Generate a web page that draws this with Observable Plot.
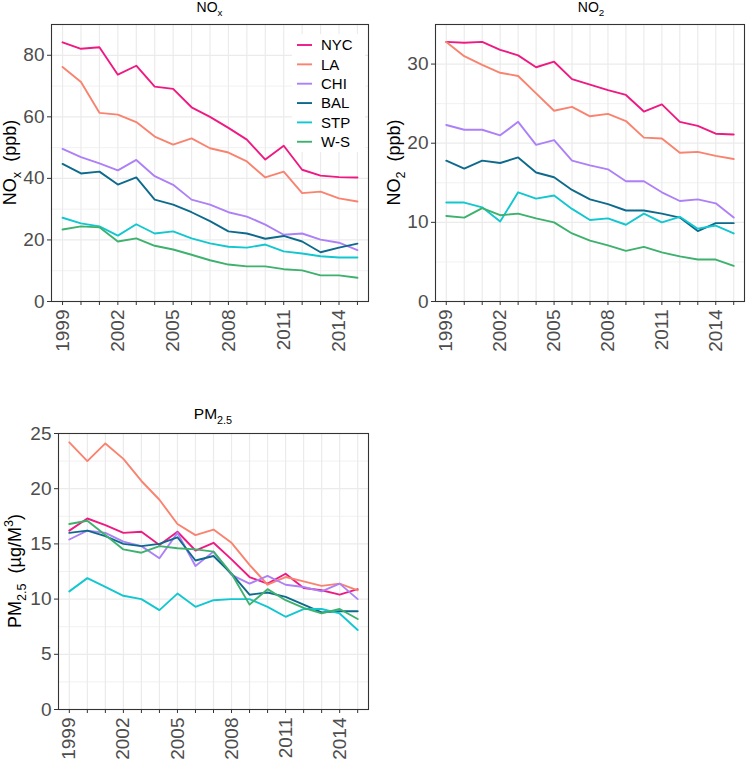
<!DOCTYPE html>
<html><head><meta charset="utf-8">
<script src="https://cdn.jsdelivr.net/npm/d3@7"></script>
<script src="https://cdn.jsdelivr.net/npm/@observablehq/plot@0.6"></script>
<style>
body{margin:0;background:#fff;font-family:"Liberation Sans",Arial,sans-serif;}
#wrap{position:relative;width:752px;height:759px;overflow:hidden;background:#fff;}
#wrap svg{position:absolute;overflow:visible;}
</style></head><body><div id="wrap"></div>
<script>
const years = [1999,2000,2001,2002,2003,2004,2005,2006,2007,2008,2009,2010,2011,2012,2013,2014,2015];
const labelYears = [1999,2002,2005,2008,2011,2014];
const cities = ["NYC","LA","CHI","BAL","STP","W-S"];
const colors = ["#EE1A82","#F9836F","#AD80F7","#0D6A8C","#12C7CF","#3DB16D"];

// NOx (ppb)
const noxNYC = [84.2,82.1,82.6,73.7,76.6,69.8,69.1,63.1,60.0,56.4,52.6,46.1,50.6,42.8,40.9,40.4,40.3];
const noxLA  = [76.2,71.3,61.3,60.7,58.3,53.6,51.0,53.0,49.8,48.4,45.5,40.3,42.2,35.2,35.7,33.5,32.5];
const noxCHI = [49.6,46.9,44.9,42.6,46.0,40.7,37.9,33.1,31.5,29.0,27.6,25.0,21.7,22.1,20.1,19.1,16.7];
const noxBAL = [44.7,41.6,42.2,38.0,40.3,33.1,31.5,29.0,26.1,22.8,22.1,20.4,21.3,19.5,16.0,17.5,18.8];
const noxSTP = [27.2,25.4,24.4,21.4,25.1,22.1,22.8,20.5,18.9,17.8,17.5,18.5,16.3,15.6,14.7,14.3,14.3];
const noxWS  = [23.4,24.4,24.1,19.5,20.5,18.1,16.9,15.2,13.4,12.0,11.4,11.4,10.5,10.1,8.5,8.5,7.7];

// NO2 (ppb)
const no2NYC = [32.8,32.7,32.8,31.8,31.1,29.6,30.3,28.1,27.4,26.7,26.1,24.0,24.9,22.7,22.2,21.2,21.1];
const no2LA  = [32.8,31.0,29.9,28.9,28.5,26.3,24.1,24.6,23.4,23.7,22.8,20.7,20.6,18.8,18.9,18.4,18.0];
const no2CHI = [22.3,21.7,21.7,21.0,22.7,19.8,20.4,17.8,17.2,16.7,15.2,15.2,13.8,12.7,12.9,12.4,10.6];
const no2BAL = [17.8,16.8,17.8,17.5,18.2,16.3,15.7,14.1,12.9,12.3,11.5,11.5,11.1,10.6,8.9,9.9,9.9];
const no2STP = [12.5,12.5,11.9,10.1,13.8,13.0,13.4,11.7,10.3,10.5,9.7,11.1,10.0,10.7,9.2,9.6,8.6];
const no2WS  = [10.8,10.6,11.8,10.9,11.1,10.5,10.0,8.6,7.7,7.1,6.4,6.9,6.2,5.7,5.3,5.3,4.5];

// PM2.5 (ug/m3)
const pmNYC = [16.2,17.3,16.7,16.0,16.1,14.9,16.1,14.4,15.1,13.6,12.0,11.4,12.3,11.0,10.8,10.4,10.9];
const pmLA  = [24.2,22.5,24.1,22.7,20.7,19.0,16.8,15.8,16.3,15.1,13.1,11.3,12.0,11.6,11.2,11.4,10.8];
const pmCHI = [15.4,16.2,16.0,15.2,14.8,13.7,16.0,13.0,14.3,12.2,11.4,12.1,11.3,11.1,10.7,11.4,10.0];
const pmBAL = [16.0,16.2,15.7,15.0,14.8,15.0,15.6,13.5,13.9,12.3,10.4,10.6,10.2,9.5,8.8,8.9,8.9];
const pmSTP = [10.7,11.9,11.1,10.3,10.0,9.0,10.5,9.3,9.9,10.0,10.0,9.3,8.4,9.1,9.1,8.7,7.2];
const pmWS  = [16.8,17.1,15.8,14.5,14.2,14.8,14.6,14.5,14.3,12.3,9.5,10.9,9.9,9.2,8.7,9.1,8.2];

const noxTicks = [0,20,40,60,80], noxMinor = [10,30,50,70,90];
const no2Ticks = [0,10,20,30], no2Minor = [5,15,25,35];
const pmTicks = [0,5,10,15,20,25], pmMinor = [2.5,7.5,12.5,17.5,22.5];

function rows(series) {
  return cities.flatMap((c, i) => series[i].map((v, j) => ({year: years[j], city: c, value: v})));
}

const FONT = "Liberation Sans, Arial, Helvetica, sans-serif";
const TICKFS = 19;

function panel(cfg) {
  const svg = Plot.plot({
    width: 376, height: cfg.height,
    marginLeft: cfg.ml, marginRight: 8, marginTop: cfg.mt, marginBottom: cfg.mb,
    style: {background: "transparent", fontFamily: FONT, fontSize: TICKFS + "px", overflow: "visible"},
    x: {type: "linear", domain: [1998.4, 2015.6]},
    y: {domain: cfg.yDomain},
    color: {domain: cities, range: colors},
    marks: [
      Plot.gridY(cfg.yMinor, {stroke: "#EBEBEB", strokeOpacity: 1, strokeWidth: 0.7}),
      Plot.gridY(cfg.yTicks, {stroke: "#EBEBEB", strokeOpacity: 1, strokeWidth: 1.2}),
      Plot.gridX(years, {stroke: "#EBEBEB", strokeOpacity: 1, strokeWidth: 1.2}),
      Plot.lineY(cfg.data, {x: "year", y: "value", stroke: "city", strokeWidth: 1.9}),
      Plot.frame({stroke: "#333333", strokeWidth: 1.1}),
      Plot.axisY(cfg.yTicks, {tickSize: 4, tickPadding: 3, fontSize: TICKFS, fill: "#4D4D4D", stroke: "#333333", label: null}),
      Plot.axisX(years, {tickSize: 4, tickPadding: 4, tickRotate: -90, fontSize: TICKFS, fill: "#4D4D4D", stroke: "#333333", label: null,
        tickFormat: d => labelYears.includes(d) ? String(d) : ""})
    ]
  });
  svg.style.left = cfg.left + "px";
  svg.style.top = cfg.top + "px";
  document.getElementById("wrap").appendChild(svg);
  return svg;
}

function richText(svg, x, y, parts, size, rotate) {
  const t = d3.select(svg).append("text")
    .attr("font-family", FONT).attr("font-size", size).attr("fill", "#000")
    .attr("text-anchor", "middle").style("white-space", "pre");
  if (rotate) t.attr("transform", `translate(${x},${y}) rotate(-90)`);
  else t.attr("x", x).attr("y", y);
  let cur = 0;
  parts.forEach(([s, kind]) => {
    const target = kind === "sub" ? size * 0.3 : kind === "sup" ? -size * 0.42 : 0;
    const ts = t.append("tspan").text(s).attr("dy", target - cur);
    if (kind) ts.attr("font-size", size * 0.7);
    cur = target;
  });
}

// Panel 1: NOx
const s1 = panel({left: 0, top: 0, height: 380, ml: 51, mt: 24, mb: 79,
  yDomain: [0, 90], yTicks: noxTicks, yMinor: noxMinor,
  data: rows([noxNYC, noxLA, noxCHI, noxBAL, noxSTP, noxWS])});
richText(s1, 209.5, 11.5, [["NO"], ["x", "sub"]], 14, false);
richText(s1, 16, 162.5, [["NO"], ["x", "sub"], ["  (ppb)"]], 18, true);

// legend
{
  const g = d3.select(s1).append("g");
  g.append("rect").attr("x", 292).attr("y", 34).attr("width", 73).attr("height", 118).attr("fill", "#fff");
  cities.forEach((c, i) => {
    const y = 45 + i * 19.35;
    g.append("line").attr("x1", 297).attr("x2", 312).attr("y1", y).attr("y2", y)
      .attr("stroke", colors[i]).attr("stroke-width", 1.9);
    g.append("text").attr("x", 321).attr("y", y).attr("dy", "0.36em").attr("text-anchor", "start")
      .attr("font-family", FONT).attr("font-size", 15).attr("fill", "#000").text(c);
  });
}

// Panel 2: NO2
const s2 = panel({left: 376, top: 0, height: 380, ml: 59, mt: 24, mb: 79,
  yDomain: [0, 35], yTicks: no2Ticks, yMinor: no2Minor,
  data: rows([no2NYC, no2LA, no2CHI, no2BAL, no2STP, no2WS])});
richText(s2, 215, 11.5, [["NO"], ["2", "sub"]], 14, false);
richText(s2, 23.5, 162.5, [["NO"], ["2", "sub"], ["  (ppb)"]], 18, true);

// Panel 3: PM2.5
const s3 = panel({left: 0, top: 380, height: 379, ml: 58, mt: 53, mb: 50,
  yDomain: [0, 25], yTicks: pmTicks, yMinor: pmMinor,
  data: rows([pmNYC, pmLA, pmCHI, pmBAL, pmSTP, pmWS])});
richText(s3, 213, 39, [["PM"], ["2.5", "sub"]], 15.5, false);
richText(s3, 21, 191, [["PM"], ["2.5", "sub"], ["  (µg/M"], ["3", "sup"], [")"]], 18, true);
</script></body></html>
